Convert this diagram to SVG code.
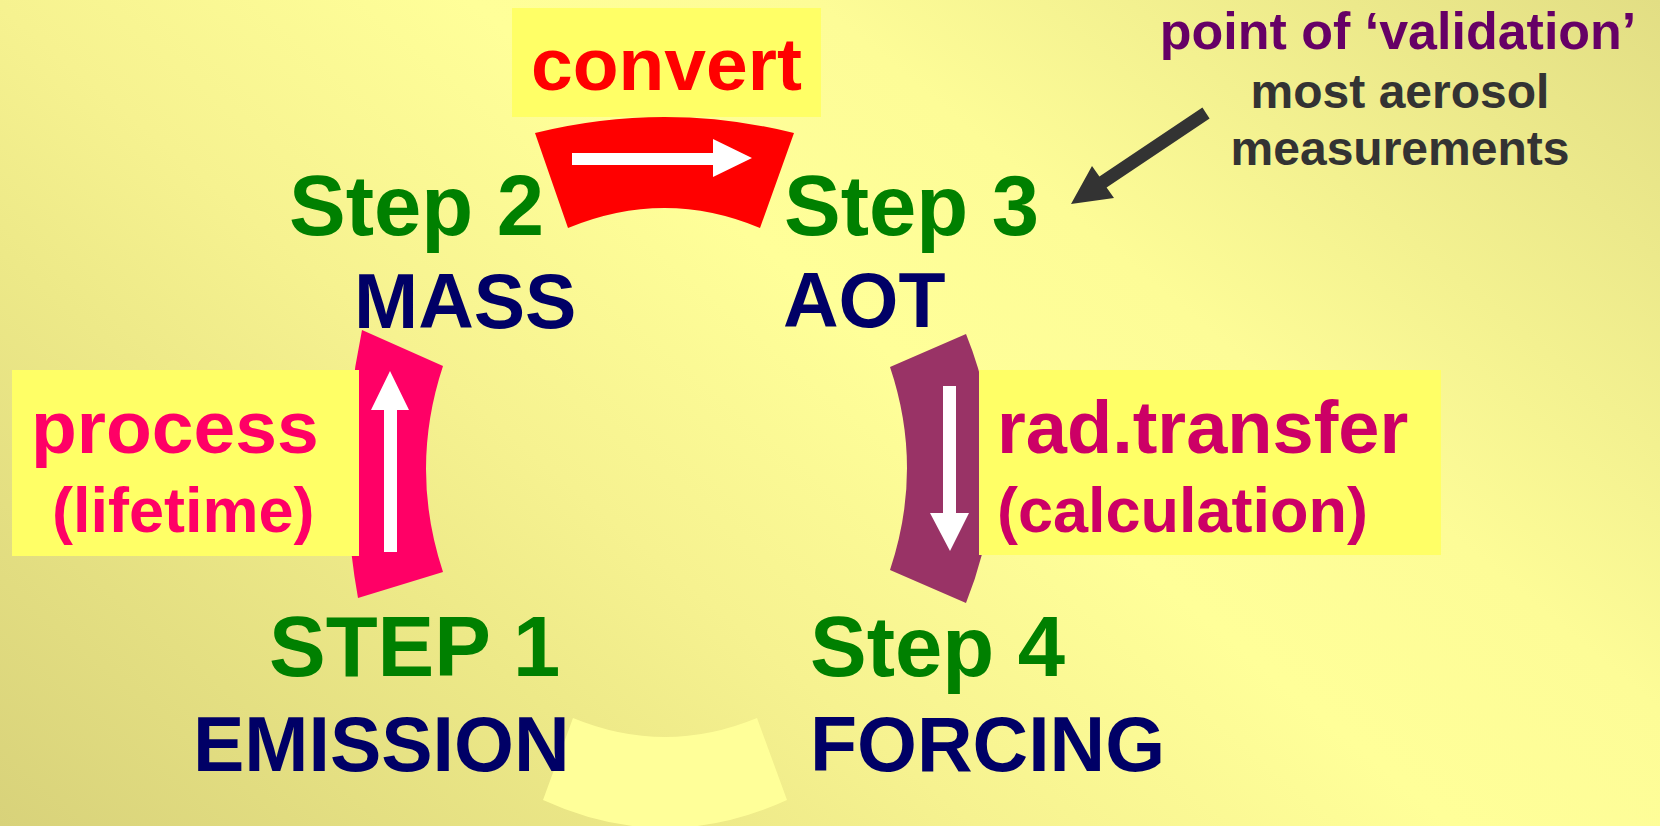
<svg xmlns="http://www.w3.org/2000/svg" width="1660" height="826" viewBox="0 0 1660 826">
<defs>
<linearGradient id="bg" gradientUnits="userSpaceOnUse" x1="0" y1="826" x2="1093" y2="-476">
<stop offset="0" stop-color="#D8D27A"/>
<stop offset="0.26" stop-color="#EDE988"/>
<stop offset="0.37" stop-color="#F6F290"/>
<stop offset="0.55" stop-color="#FFFF99"/>
<stop offset="0.68" stop-color="#FDFC97"/>
<stop offset="1" stop-color="#E2DE84"/>
</linearGradient>
<style>
text{font-family:"Liberation Sans",Arial,Helvetica,sans-serif;font-weight:bold}
.step{fill:#008000;font-size:85px}
.name{fill:#000066;font-size:77px}
.box{fill:#FFFF66}
.wa{fill:#FFFFFF}
</style>
</defs>
<rect width="1660" height="826" fill="url(#bg)"/>
<g id="connectors">
<path id="arc-convert" d="M535,133 Q665,101 794,133 L760,228 Q665,188 568,228 Z" fill="#FF0000"/>
<path id="arc-process" d="M362,330 L443,366 Q409,469 443,572 L358,598 Q334,464 362,330 Z" fill="#FF0066"/>
<path id="arc-radtransfer" d="M966,334 L890,367 Q924,468 890,570 L966,603 Q1020,468 966,334 Z" fill="#993366"/>
<path id="arc-bottom" d="M573,718 Q665,756 757,718 L787,800 Q665,856 543,800 Z" fill="#FFFF99"/>
<polygon class="wa" points="572,153 713,153 713,139 752,158 713,177 713,165 572,165"/>
<polygon class="wa" points="384,552 384,410 371,410 390,371 409,410 397,410 397,552"/>
<polygon class="wa" points="943,386 956,386 956,513 969,513 950,551 930,513 943,513"/>
<polygon points="1202.4,107.6 1209.6,118.4 1106.6,187.4 1114,198 1071,204 1092,166 1099.4,176.6" fill="#333333"/>
</g>
<g id="label-convert">
<rect class="box" x="512" y="8" width="309" height="109"/>
<text x="531" y="90" font-size="75" fill="#FF0000">convert</text>
</g>
<g id="label-process">
<rect class="box" x="12" y="370" width="347" height="186"/>
<text x="31" y="453" font-size="75" fill="#FF0066">process</text>
<text x="52" y="532" font-size="63" fill="#FF0066">(lifetime)</text>
</g>
<g id="label-radtransfer">
<rect class="box" x="979" y="370" width="462" height="185"/>
<text x="997" y="453" font-size="74" fill="#CC0066">rad.transfer</text>
<text x="997" y="532" font-size="63" fill="#CC0066">(calculation)</text>
</g>
<g id="step2">
<text class="step" x="289" y="235">Step 2</text>
<text class="name" x="354" y="328">MASS</text>
</g>
<g id="step3">
<text class="step" x="784" y="235">Step 3</text>
<text class="name" x="783" y="327">AOT</text>
</g>
<g id="step1">
<text class="step" x="269" y="676" font-size="84">STEP 1</text>
<text class="name" x="193" y="771" font-size="75">EMISSION</text>
</g>
<g id="step4">
<text class="step" x="810" y="676">Step 4</text>
<text class="name" x="810" y="771">FORCING</text>
</g>
<g id="validation-note" text-anchor="middle">
<text x="1398" y="49" font-size="52" fill="#660066">point of ‘validation’</text>
<text x="1400" y="108" font-size="48" fill="#333333">most aerosol</text>
<text x="1400" y="165" font-size="48" fill="#333333">measurements</text>
</g>
</svg>
